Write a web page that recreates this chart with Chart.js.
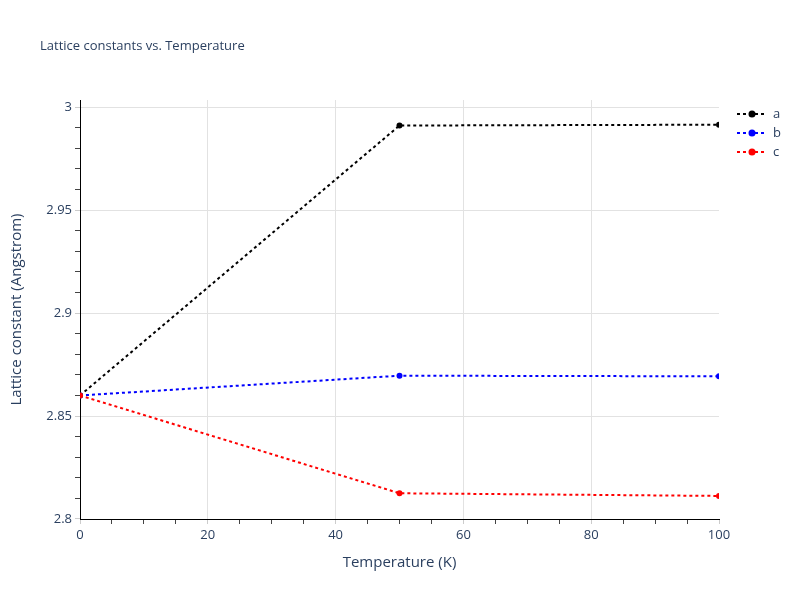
<!DOCTYPE html>
<html>
<head>
<meta charset="utf-8">
<script src="https://cdn.jsdelivr.net/npm/chart.js@4.4.1/dist/chart.umd.min.js"></script>
<style>
  html, body { margin: 0; padding: 0; background: #fff; }
  #wrap { width: 800px; height: 600px; position: relative; }
</style>
</head>
<body>
<div id="wrap"><canvas id="latticeChart" width="800" height="600"></canvas></div>
<script>
// Chart data
const temperatures = [0, 50, 100];
const aValues = [2.86, 2.9911, 2.9915];
const bValues = [2.86, 2.8696, 2.8693];
const cValues = [2.86, 2.8125, 2.8112];
const seriesNames = ['a', 'b', 'c'];
const seriesColors = ['#000000', '#0000ff', '#ff0000'];

const textColor = '#2a3f5f';
const gridColor = '#e2e2e2';
const fontFamily = '"Open Sans", "Liberation Sans", Arial, sans-serif';

function toPoints(values) {
    return temperatures.map((t, i) => ({ x: t, y: values[i] }));
}

function isMultiple(v, step) {
    const r = v / step;
    return Math.abs(r - Math.round(r)) < 1e-6;
}

// Title and legend drawn by hand to match the reference layout
const decorPlugin = {
    id: 'decor',
    afterDraw(chart) {
        const ctx = chart.ctx;
        ctx.save();
        ctx.fillStyle = textColor;
        ctx.font = '13px ' + fontFamily;
        ctx.textBaseline = 'middle';
        ctx.textAlign = 'left';
        ctx.fillText('Lattice constants vs. Temperature', 40, 46);

        chart.data.datasets.forEach((ds, i) => {
            const y = 114 + i * 19;
            ctx.strokeStyle = ds.borderColor;
            ctx.lineWidth = 2;
            ctx.setLineDash([3, 3]);
            ctx.beginPath();
            ctx.moveTo(737, y);
            ctx.lineTo(767, y);
            ctx.stroke();
            ctx.setLineDash([]);
            ctx.fillStyle = ds.borderColor;
            ctx.beginPath();
            ctx.arc(752, y, 3.5, 0, Math.PI * 2);
            ctx.fill();
            ctx.fillStyle = textColor;
            ctx.font = '13px ' + fontFamily;
            ctx.fillText(ds.label, 773, y);
        });
        ctx.restore();
    }
};

const valueSets = [aValues, bValues, cValues];

new Chart(document.getElementById('latticeChart').getContext('2d'), {
    type: 'line',
    data: {
        datasets: valueSets.map((vals, i) => ({
            label: seriesNames[i],
            data: toPoints(vals),
            borderColor: seriesColors[i],
            backgroundColor: seriesColors[i],
            borderWidth: 2,
            borderDash: [3, 3],
            pointRadius: 3,
            pointHoverRadius: 3,
            pointBorderWidth: 0,
            fill: false,
            tension: 0,
            order: 2 - i
        }))
    },
    options: {
        responsive: false,
        animation: false,
        layout: { padding: { left: 0, top: 100, right: 81, bottom: 0 } },
        plugins: {
            legend: { display: false },
            title: { display: false },
            tooltip: { enabled: false }
        },
        scales: {
            x: {
                type: 'linear',
                min: 0,
                max: 100,
                afterFit(scale) { scale.height = 81; },
                border: { display: true, color: '#000000', width: 1 },
                grid: {
                    color(c) {
                        const v = c.tick ? c.tick.value : null;
                        return (v !== null && v > 0 && v < 100 && isMultiple(v, 20)) ? gridColor : 'rgba(0,0,0,0)';
                    },
                    tickColor(c) {
                        const v = c.tick ? c.tick.value : 0;
                        return isMultiple(v, 20) ? '#cccccc' : '#444444';
                    },
                    tickLength: 5,
                    lineWidth: 1
                },
                ticks: {
                    stepSize: 5,
                    autoSkip: false,
                    maxRotation: 0,
                    padding: 3,
                    color: textColor,
                    font: { family: fontFamily, size: 13 },
                    callback(v) { return isMultiple(v, 20) ? String(Math.round(v)) : ''; }
                },
                title: {
                    display: true,
                    text: 'Temperature (K)',
                    color: textColor,
                    font: { family: fontFamily, size: 15 },
                    padding: { top: 0, bottom: 28 }
                }
            },
            y: {
                type: 'linear',
                min: 2.8,
                max: 3.0035,
                afterFit(scale) { scale.width = 80; },
                border: { display: true, color: '#000000', width: 1 },
                grid: {
                    color(c) {
                        const v = c.tick ? c.tick.value : null;
                        return (v !== null && v > 2.801 && isMultiple(v, 0.05)) ? gridColor : 'rgba(0,0,0,0)';
                    },
                    tickColor(c) {
                        const v = c.tick ? c.tick.value : 0;
                        return isMultiple(v, 0.05) ? '#cccccc' : '#444444';
                    },
                    tickLength: 5,
                    lineWidth: 1
                },
                ticks: {
                    stepSize: 0.01,
                    includeBounds: false,
                    autoSkip: false,
                    padding: 3,
                    color: textColor,
                    font: { family: fontFamily, size: 13 },
                    callback(v) { return isMultiple(v, 0.05) ? String(Number(v.toFixed(2))) : ''; }
                },
                title: {
                    display: true,
                    text: 'Lattice constant (Angstrom)',
                    color: textColor,
                    font: { family: fontFamily, size: 15 },
                    padding: { top: 8, bottom: 0 }
                }
            }
        }
    },
    plugins: [decorPlugin]
});
</script>
</body>
</html>
